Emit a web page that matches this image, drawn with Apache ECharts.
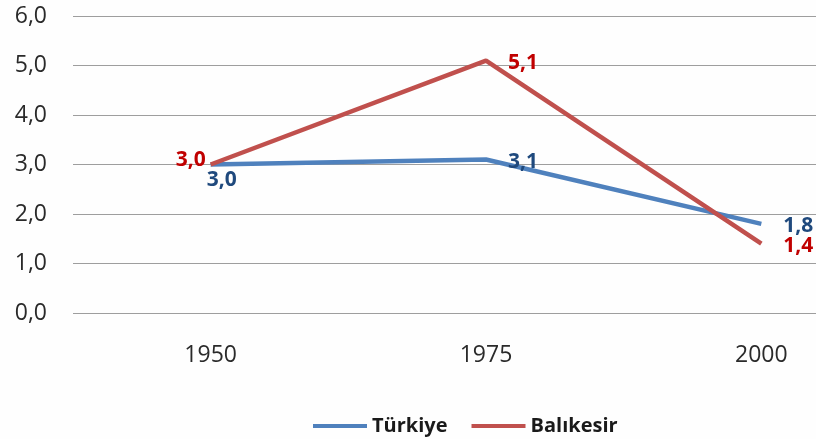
<!DOCTYPE html>
<html>
<head>
<meta charset="utf-8">
<script src="https://cdn.jsdelivr.net/npm/echarts@6/dist/echarts.min.js"></script>
<style>
  html, body { margin: 0; padding: 0; background: #fefefe; }
  #chart { width: 816px; height: 439px; }
</style>
</head>
<body>
<div id="chart"></div>
<script>
// Population growth rates (%), Türkiye vs Balıkesir
const years = ['1950', '1975', '2000'];
const turkiye = [3.0, 3.1, 1.8];
const balikesir = [3.0, 5.1, 1.4];
const yTicks = { min: 0, max: 6, interval: 1 };

const fmt = v => v.toFixed(1).replace('.', ',');
const font = '"Open Sans", "Noto Sans", sans-serif';

const chart = echarts.init(document.getElementById('chart'));

const labelBase = (color) => ({
  show: true,
  position: 'right',
  distance: 22,
  offset: [0, 2],
  color: color,
  fontFamily: font,
  fontSize: 21,
  fontWeight: 'bold',
  formatter: p => fmt(p.value)
});

chart.setOption({
  animation: false,
  backgroundColor: '#fefefe',
  // the plot runs past the right edge of the canvas
  grid: { left: 73, width: 826, top: 16, height: 297, outerBoundsMode: 'none', containLabel: false },
  legend: {
    top: 411,
    left: 308,
    itemWidth: 54,
    itemHeight: 4,
    itemGap: 24,
    icon: 'rect',
    textStyle: { fontFamily: font, fontSize: 20, fontWeight: 'bold', color: '#1a1a1a' },
    data: ['Türkiye', 'Balıkesir']
  },
  xAxis: {
    type: 'category',
    data: years,
    boundaryGap: true,
    axisLine: { show: false },
    axisTick: { show: false },
    axisLabel: { margin: 31, fontFamily: font, fontSize: 23, color: '#2a2a2a' }
  },
  yAxis: {
    type: 'value',
    min: yTicks.min,
    max: yTicks.max,
    interval: yTicks.interval,
    axisLine: { show: false },
    axisTick: { show: false },
    axisLabel: { margin: 26, fontFamily: font, fontSize: 23, color: '#2a2a2a', formatter: v => fmt(v) },
    splitLine: { lineStyle: { color: '#9e9e9e', width: 1 } }
  },
  series: [
    {
      name: 'Türkiye',
      type: 'line',
      data: turkiye.map((v, i) => i === 0
        ? { value: v, label: { position: 'bottom', distance: 5, offset: [11, 0] } }
        : v),
      symbol: 'circle',
      symbolSize: 0,
      showSymbol: true,
      lineStyle: { color: '#4f81bd', width: 4.5 },
      itemStyle: { color: '#4f81bd' },
      label: labelBase('#1f497d'),
      z: 2
    },
    {
      name: 'Balıkesir',
      type: 'line',
      data: balikesir.map((v, i) => i === 0
        ? { value: v, label: { position: 'left', distance: 5, offset: [0, -4] } }
        : v),
      symbol: 'circle',
      symbolSize: 0,
      showSymbol: true,
      lineStyle: { color: '#c0504d', width: 4.5 },
      itemStyle: { color: '#c0504d' },
      label: labelBase('#c00000'),
      z: 3
    }
  ]
});
</script>
</body>
</html>
